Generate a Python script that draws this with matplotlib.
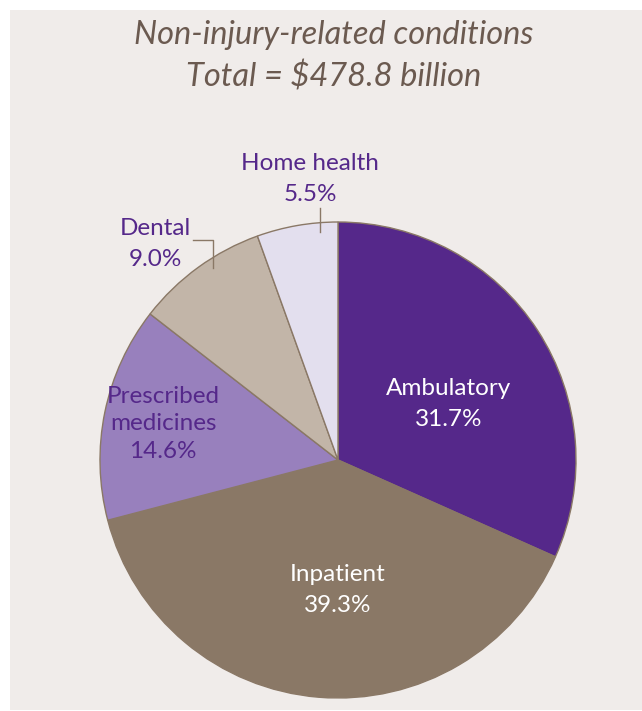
import matplotlib.pyplot as plt
from matplotlib.patches import Rectangle

labels = ["Ambulatory", "Inpatient", "Prescribed\nmedicines", "Dental", "Home health"]
shares = [31.7, 39.3, 14.6, 9.0, 5.5]
colors = ["#55288a", "#8a7866", "#9880bd", "#c2b5a8", "#e3dfee"]

title = "Non-injury-related conditions\nTotal = $478.8 billion"

W, H = 642, 711
fig = plt.figure(figsize=(W / 100, H / 100), dpi=100)
ax = fig.add_axes([0, 0, 1, 1])

# panel background
ax.add_patch(Rectangle((10, 1), 640, 700, facecolor="#f0ecea", edgecolor="none", zorder=0))

cx, cy, r = 338, H - 460, 238
ax.pie(shares, colors=colors, startangle=90, counterclock=False,
       center=(cx, cy), radius=r,
       wedgeprops=dict(edgecolor="#8a7866", linewidth=1.0))

ax.set_xlim(0, W)
ax.set_ylim(0, H)
ax.set_aspect("equal")
ax.axis("off")

font = "Lato"
purple = "#55288a"
fs = 17.5

ax.text(334, H - 56, title, ha="center", va="center", fontsize=23.5,
        fontstyle="italic", family=font, color="#6b5a50", linespacing=1.45)

ax.text(449, H - 404, f"{labels[0]}\n{shares[0]:.1f}%", ha="center", va="center",
        fontsize=fs, family=font, color="white", linespacing=1.6)
ax.text(338, H - 590, f"{labels[1]}\n{shares[1]:.1f}%", ha="center", va="center",
        fontsize=fs, family=font, color="white", linespacing=1.6)
ax.text(163, H - 424, f"{labels[2]}\n{shares[2]:.1f}%", ha="center", va="center",
        fontsize=fs, family=font, color=purple, linespacing=1.4)
ax.text(155, H - 244, f"{labels[3]}\n{shares[3]:.1f}%", ha="center", va="center",
        fontsize=fs, family=font, color=purple, linespacing=1.6)
ax.text(310, H - 179, f"{labels[4]}\n{shares[4]:.1f}%", ha="center", va="center",
        fontsize=fs, family=font, color=purple, linespacing=1.6)

# leader lines
ax.plot([193, 213, 213], [H - 240, H - 240, H - 268], color="#8a7866", lw=1)
ax.plot([320, 320], [H - 208, H - 232], color="#8a7866", lw=1)

fig.savefig("out.png", dpi=100)
